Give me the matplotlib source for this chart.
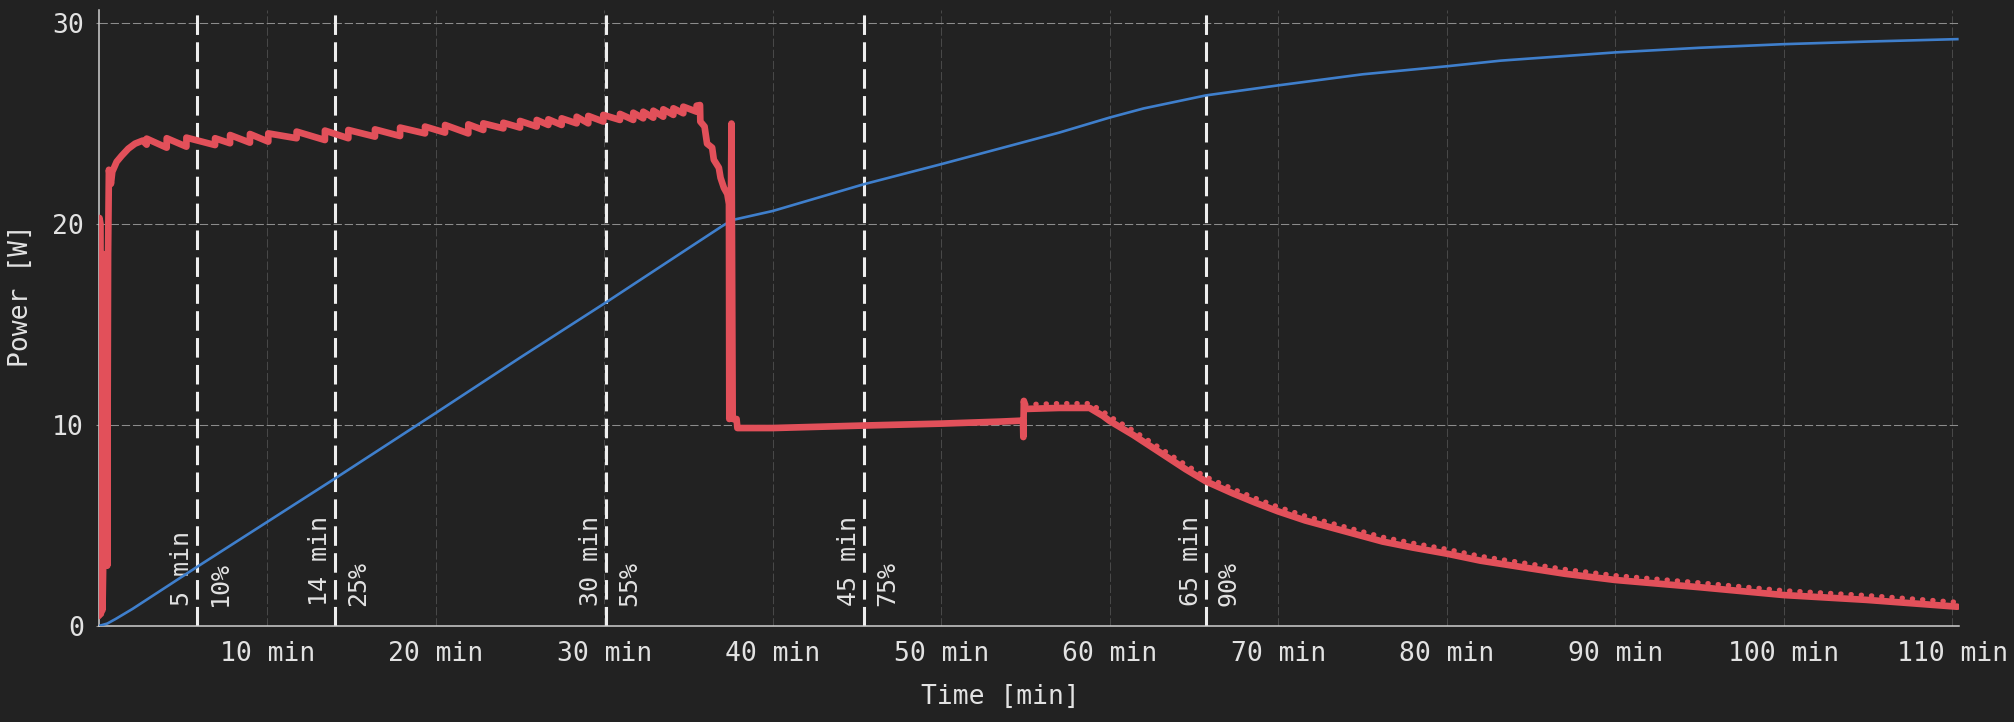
import matplotlib
matplotlib.use('Agg')
import matplotlib.pyplot as plt
from matplotlib.transforms import offset_copy
import numpy as np

# measured charging power (W) over time (min)
red_time = [0.0, 0.04, 0.10, 0.12, 0.18, 0.22, 0.26, 0.30, 0.34, 0.38, 0.42, 0.46, 0.50, 0.55,
            0.60, 0.72, 0.80, 1.06, 1.36, 1.75, 2.15, 2.60, 2.84, 2.84, 4.03, 4.03, 5.20, 5.20,
            6.90, 6.90, 7.79, 7.79, 8.97, 8.97, 10.06, 10.06, 11.74, 11.74, 13.42, 13.42,
            14.81, 14.81, 16.39, 16.39, 17.88, 17.88, 19.36, 19.36, 20.55, 20.55, 21.93, 21.93,
            22.82, 22.82, 24.01, 24.01, 25.00, 25.00, 25.99, 25.99, 26.68, 26.68, 27.47, 27.47,
            28.36, 28.36, 29.05, 29.05, 29.94, 29.94, 30.93, 30.93, 31.72, 31.72, 32.31, 32.31,
            32.91, 32.91, 33.50, 33.50, 34.10, 34.10, 34.69, 34.69, 35.48, 35.48, 35.68,
            35.70, 35.95, 36.10, 36.40, 36.50, 36.80, 36.90, 37.10, 37.30, 37.40,
            37.42, 37.55, 37.62, 37.85, 37.90, 40.0, 45.2, 50.0, 53.5, 54.85,
            54.87, 54.90, 55.00, 57.0, 58.8, 59.6, 60.0, 60.7, 61.4, 62.4, 63.4, 64.5, 65.7, 67.3,
            68.6, 70.0, 71.6, 73.3, 76.2, 78.0, 80.0, 82.0, 84.3, 87.0, 90.0, 95.0, 100.0, 104.9,
            110.3]
red_power = [0.5, 20.3, 20.0, 0.6, 2.5, 0.8, 3.0, 18.5, 3.0, 18.5, 3.0, 18.0, 3.0, 18.5,
             22.7, 22.0, 22.6, 23.1, 23.4, 23.75, 24.0, 24.15, 23.95, 24.25, 23.8, 24.27, 23.85, 24.3,
             23.93, 24.27, 24.02, 24.43, 24.05, 24.48, 24.10, 24.51, 24.27, 24.60, 24.18, 24.65,
             24.27, 24.68, 24.35, 24.71, 24.38, 24.80, 24.51, 24.85, 24.55, 24.93, 24.51, 24.96,
             24.68, 25.01, 24.76, 25.04, 24.80, 25.13, 24.85, 25.18, 24.93, 25.21, 24.93, 25.26,
             25.01, 25.34, 25.01, 25.38, 25.10, 25.43, 25.18, 25.48, 25.18, 25.54, 25.26, 25.59,
             25.29, 25.64, 25.34, 25.71, 25.43, 25.76, 25.51, 25.84, 25.59, 25.89, 25.92,
             25.1, 24.85, 24.0, 23.8, 23.2, 22.8, 22.3, 21.8, 21.5, 21.0,
             10.3, 25.0, 10.3, 10.3, 9.85, 9.85, 9.97, 10.07, 10.17, 10.22,
             9.4, 11.2, 10.8, 10.85, 10.85, 10.45, 10.2, 9.85, 9.5, 8.95, 8.4, 7.8, 7.2, 6.6,
             6.15, 5.7, 5.25, 4.86, 4.2, 3.9, 3.6, 3.25, 2.95, 2.6, 2.29, 1.93, 1.54, 1.30,
             0.96]

# accumulated energy curve (same axis)
energy_time = [0.0, 0.5, 1.0, 2.0, 5.81, 14.0, 20.0, 25.0, 30.1, 35.0, 37.0, 37.6, 40.0, 45.4,
               50.0, 55.0, 57.0, 59.0, 60.0, 62.0, 65.7, 70.0, 75.0, 80.0, 83.2, 90.0, 95.0,
               100.0, 105.0, 110.3]
energy_value = [0.0, 0.12, 0.35, 0.85, 2.93, 7.33, 10.6, 13.35, 16.1, 18.8, 19.9, 20.2, 20.65,
                21.98, 22.98, 24.1, 24.55, 25.05, 25.3, 25.75, 26.4, 26.9, 27.45, 27.85, 28.13,
                28.54, 28.77, 28.95, 29.08, 29.2]

mark_time = [5.81, 14.0, 30.1, 45.4, 65.7]
mark_min = ["5 min", "14 min", "30 min", "45 min", "65 min"]
mark_pct = ["10%", "25%", "55%", "75%", "90%"]

x_ticks = [10, 20, 30, 40, 50, 60, 70, 80, 90, 100, 110]
x_labels = [f"{t} min" for t in x_ticks]
y_ticks = [0, 10, 20, 30]

BG = '#222222'
FG = '#e2e2e2'
RED = '#e2505a'
BLUE = '#3f7fcc'

plt.rcParams['font.family'] = 'DejaVu Sans Mono'

fig = plt.figure(figsize=(20.15, 7.22), dpi=100, facecolor=BG)
ax = fig.add_axes([98.8 / 2015, 1 - 626 / 722, (1959 - 98.8) / 2015, (626 - 10) / 722])
ax.set_facecolor(BG)

# grid
ax.set_axisbelow(True)
ax.yaxis.grid(True, color='#8c8c8c', lw=0.75, linestyle=(0, (8, 2.7)))
ax.xaxis.grid(True, color='#484848', lw=0.75, linestyle=(0, (8, 2.7)))

# vertical markers with labels
for t, m, p in zip(mark_time, mark_min, mark_pct):
    ax.axvline(t, color='#eeeeee', lw=2.2, linestyle=(0, (6.4, 2.4)), zorder=2)
    ax.text(t, 1.0, m, rotation=90, rotation_mode='anchor', ha='left', va='baseline',
            color=FG, fontsize=18,
            transform=offset_copy(ax.transData, fig=fig, x=-7.5, y=0, units='dots'))
    ax.text(t, 1.0, p, rotation=90, rotation_mode='anchor', ha='left', va='baseline',
            color=FG, fontsize=18,
            transform=offset_copy(ax.transData, fig=fig, x=30, y=0, units='dots'))

# curves
ax.plot(energy_time, energy_value, color=BLUE, lw=1.9, zorder=3)
ax.plot(red_time, red_power, color=RED, lw=4.8, solid_joinstyle='round',
        solid_capstyle='round', zorder=4)

# small ripple bumps on the later part of the power trace
rt = np.array(red_time)
rp = np.array(red_power)
tail = rt >= 55.0
ax.plot(rt[tail], rp[tail], color=RED, lw=3.6, linestyle=(0, (0.1, 1.95)),
        dash_capstyle='round', zorder=4,
        transform=offset_copy(ax.transData, fig=fig, x=0, y=4.5, units='dots'))

ax.set_xlim(0, 110.4)
ax.set_ylim(0, 30.65)
ax.set_xticks(x_ticks)
ax.set_xticklabels(x_labels)
ax.set_yticks(y_ticks)

for s in ['top', 'right']:
    ax.spines[s].set_visible(False)
for s in ['left', 'bottom']:
    ax.spines[s].set_color('#d0d0d0')
    ax.spines[s].set_linewidth(1.1)

ax.tick_params(axis='x', length=0, pad=11, labelsize=19, labelcolor=FG)
ax.tick_params(axis='y', length=2.2, color='#8c8c8c', pad=8.5, labelsize=19, labelcolor=FG)

ax.set_xlabel("Time [min]", fontsize=19, color=FG)
ax.xaxis.set_label_coords(0.4845, -0.115)
ax.xaxis.label.set_va('center')
ax.set_ylabel("Power [W]", fontsize=19, color=FG)
ax.yaxis.set_label_coords(-0.042, 0.536)
ax.yaxis.label.set_va('center')

fig.savefig('out.png', dpi=100, facecolor=BG)
